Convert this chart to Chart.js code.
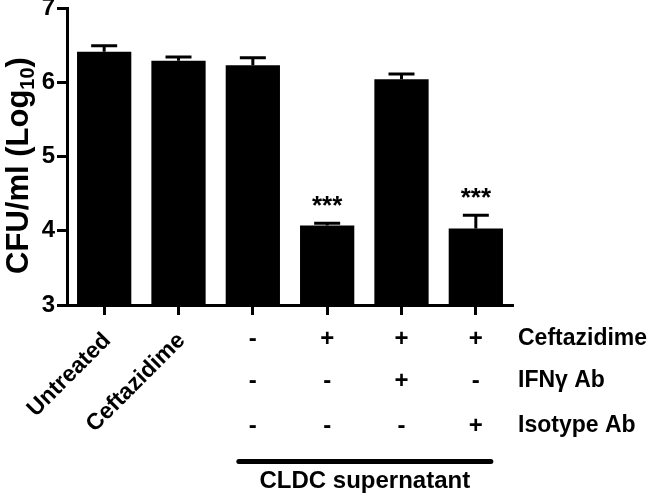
<!DOCTYPE html>
<html lang="en">
<head>
    <meta charset="UTF-8">
    <title>CFU chart</title>
    <script src="https://cdn.jsdelivr.net/npm/chart.js"></script>
    <style>
        body { margin: 0; background: #fff; }
        #wrap { width: 650px; height: 493px; }
    </style>
</head>
<body>
    <div id="wrap">
        <canvas id="cfuChart" width="650" height="493"></canvas>
    </div>

    <script>
        // values
        const groupLabels = ['Untreated', 'Ceftazidime', '', '', '', ''];
        const meanValues = [6.41, 6.29, 6.23, 4.07, 6.04, 4.03];
        const semValues = [0.08, 0.05, 0.10, 0.03, 0.07, 0.18];
        const significance = ['', '', '', '***', '', '***'];
        const yTicks = [3, 4, 5, 6, 7];

        const rowLabels = ['Ceftazidime', 'IFNγ Ab', 'Isotype Ab'];
        const ceftazidimeRow = ['', '', '-', '+', '+', '+'];
        const ifnRow = ['', '', '-', '-', '+', '-'];
        const isotypeRow = ['', '', '-', '-', '-', '+'];
        const bracketLabel = 'CLDC supernatant';
        const bracketFrom = 2;
        const bracketTo = 5;

        const FONT = '"Liberation Sans", Arial, sans-serif';

        const extrasPlugin = {
            id: 'extras',
            afterDatasetsDraw(chart) {
                const ctx = chart.ctx;
                const x = chart.scales.x;
                const y = chart.scales.y;
                ctx.save();
                ctx.strokeStyle = '#000';
                ctx.fillStyle = '#000';
                ctx.lineWidth = 3;
                meanValues.forEach((v, i) => {
                    const cx = x.getPixelForValue(i);
                    const yTop = y.getPixelForValue(v + semValues[i]);
                    const yBar = y.getPixelForValue(v);
                    ctx.beginPath();
                    ctx.moveTo(cx, yBar);
                    ctx.lineTo(cx, yTop);
                    ctx.moveTo(cx - 13, yTop);
                    ctx.lineTo(cx + 13, yTop);
                    ctx.stroke();
                    if (significance[i]) {
                        ctx.font = 'bold 26px ' + FONT;
                        ctx.textAlign = 'center';
                        ctx.textBaseline = 'alphabetic';
                        ctx.fillText(significance[i], cx, yTop - 9);
                    }
                });
                ctx.restore();
            },
            afterDraw(chart) {
                const ctx = chart.ctx;
                const x = chart.scales.x;
                const area = chart.chartArea;
                ctx.save();
                ctx.fillStyle = '#000';

                // y axis title with subscript
                ctx.save();
                ctx.translate(28, (area.top + area.bottom) / 2 + 9);
                ctx.rotate(-Math.PI / 2);
                const main = 'CFU/ml (Log';
                ctx.font = 'bold 20px ' + FONT;
                const subW = ctx.measureText('10').width;
                ctx.font = 'bold 31px ' + FONT;
                const mainW = ctx.measureText(main).width;
                const closeW = ctx.measureText(')').width;
                const total = mainW + subW + closeW;
                let px = -total / 2;
                ctx.textAlign = 'left';
                ctx.textBaseline = 'alphabetic';
                ctx.fillText(main, px, 0);
                px += mainW;
                ctx.font = 'bold 20px ' + FONT;
                ctx.fillText('10', px, 6);
                px += subW;
                ctx.font = 'bold 31px ' + FONT;
                ctx.fillText(')', px, 0);
                ctx.restore();

                // rotated group labels
                ctx.font = 'bold 23px ' + FONT;
                groupLabels.forEach((lab, i) => {
                    if (!lab) return;
                    const cx = x.getPixelForValue(i);
                    ctx.save();
                    ctx.translate(cx + 3, 337);
                    ctx.rotate(-Math.PI / 4);
                    ctx.textAlign = 'right';
                    ctx.textBaseline = 'middle';
                    ctx.fillText(lab, 0, 0);
                    ctx.restore();
                });

                // +/- rows
                const rows = [ceftazidimeRow, ifnRow, isotypeRow];
                const rowY = [339, 381, 426];
                ctx.textBaseline = 'middle';
                rows.forEach((row, r) => {
                    ctx.textAlign = 'center';
                    ctx.font = 'bold 24px ' + FONT;
                    row.forEach((s, i) => {
                        if (!s) return;
                        ctx.fillText(s, x.getPixelForValue(i), rowY[r]);
                    });
                    ctx.font = 'bold 23px ' + FONT;
                    ctx.textAlign = 'left';
                    ctx.fillText(rowLabels[r], 518, rowY[r]);
                });

                // bracket
                const bx1 = x.getPixelForValue(bracketFrom) - 14;
                const bx2 = x.getPixelForValue(bracketTo) + 15;
                ctx.strokeStyle = '#000';
                ctx.lineWidth = 5;
                ctx.lineCap = 'round';
                ctx.beginPath();
                ctx.moveTo(bx1, 461.5);
                ctx.lineTo(bx2, 461.5);
                ctx.stroke();
                ctx.font = 'bold 24px ' + FONT;
                ctx.textAlign = 'center';
                ctx.textBaseline = 'alphabetic';
                ctx.fillText(bracketLabel, (bx1 + bx2) / 2, 488);
                ctx.restore();
            }
        };

        new Chart(document.getElementById('cfuChart'), {
            type: 'bar',
            data: {
                labels: groupLabels,
                datasets: [{
                    data: meanValues,
                    backgroundColor: '#000',
                    borderWidth: 0,
                    barPercentage: 0.73,
                    categoryPercentage: 1.0
                }]
            },
            options: {
                responsive: false,
                animation: false,
                layout: {
                    padding: { left: 0, right: 137, top: 8, bottom: 178 }
                },
                plugins: {
                    legend: { display: false },
                    tooltip: { enabled: false }
                },
                scales: {
                    x: {
                        grid: {
                            display: true,
                            offset: false,
                            drawOnChartArea: false,
                            drawTicks: true,
                            tickLength: 10,
                            tickWidth: 3,
                            tickColor: '#000'
                        },
                        border: { display: true, color: '#000', width: 3 },
                        ticks: { display: false },
                        afterFit(scale) { scale.height = 10; }
                    },
                    y: {
                        min: 3,
                        max: 7,
                        afterBuildTicks(scale) {
                            scale.ticks = yTicks.map(v => ({ value: v }));
                        },
                        grid: {
                            display: true,
                            drawOnChartArea: false,
                            drawTicks: true,
                            tickLength: 10,
                            tickWidth: 3,
                            tickColor: '#000'
                        },
                        border: { display: true, color: '#000', width: 3 },
                        ticks: {
                            color: '#000',
                            padding: 2,
                            font: { family: FONT, size: 24, weight: 'bold' }
                        },
                        afterFit(scale) {
                            scale.width = 67;
                            scale.paddingTop = 0;
                            scale.paddingBottom = 0;
                        }
                    }
                }
            },
            plugins: [extrasPlugin]
        });
    </script>
</body>
</html>
